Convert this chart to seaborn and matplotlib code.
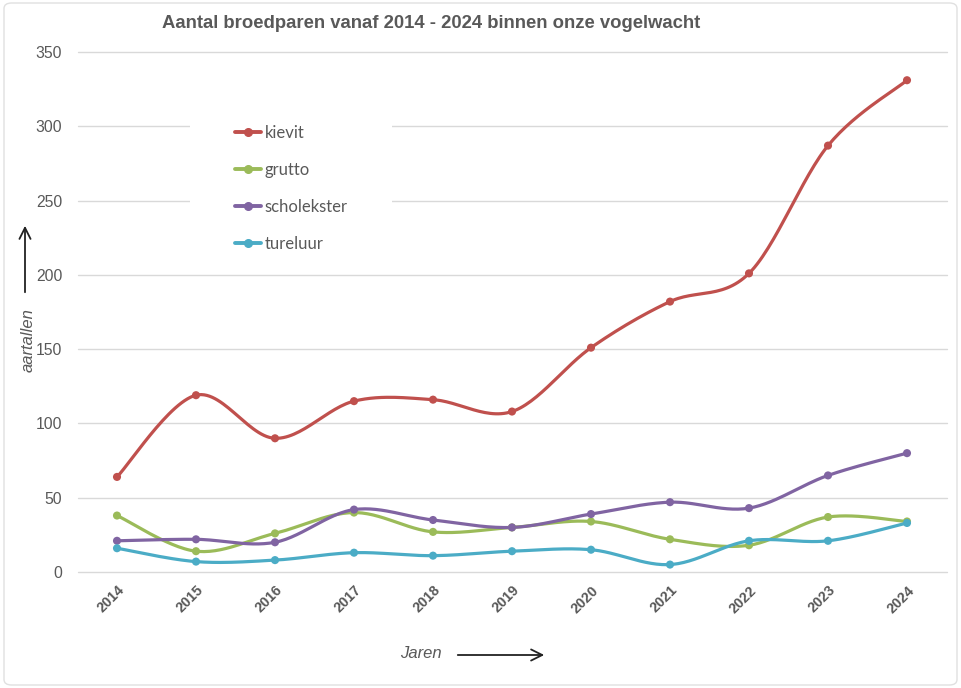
import numpy as np
import pandas as pd
import matplotlib
matplotlib.use('agg')
import matplotlib.pyplot as plt
from matplotlib.lines import Line2D
from matplotlib.patches import Rectangle, FancyBboxPatch, FancyArrowPatch
import seaborn as sns

# data
years = ['2014', '2015', '2016', '2017', '2018', '2019', '2020', '2021', '2022', '2023', '2024']
kievit = [64, 119, 90, 115, 116, 108, 151, 182, 201, 287, 331]
grutto = [38, 14, 26, 40, 27, 30, 34, 22, 18, 37, 34]
scholekster = [21, 22, 20, 42, 35, 30, 39, 47, 43, 65, 80]
tureluur = [16, 7, 8, 13, 11, 14, 15, 5, 21, 21, 33]

series = {'kievit': kievit, 'grutto': grutto, 'scholekster': scholekster, 'tureluur': tureluur}
colors = {'kievit': '#C0504D', 'grutto': '#9BBB59', 'scholekster': '#8064A2', 'tureluur': '#4BACC6'}
TXT = '#595959'


def smooth(y, n=30):
    # Excel style smoothed line: cubic bezier with catmull-rom control points
    x = np.arange(len(y), dtype=float)
    y = np.asarray(y, dtype=float)
    pts = np.column_stack([x, y])
    ext = np.vstack([pts[0], pts, pts[-1]])
    out = []
    t = np.linspace(0, 1, n)[:, None]
    for i in range(len(pts) - 1):
        p0, p3 = ext[i + 1], ext[i + 2]
        c1 = p0 + (ext[i + 2] - ext[i]) / 6
        c2 = p3 - (ext[i + 3] - ext[i + 1]) / 6
        seg = (1 - t) ** 3 * p0 + 3 * (1 - t) ** 2 * t * c1 + 3 * (1 - t) * t ** 2 * c2 + t ** 3 * p3
        out.append(seg if i == 0 else seg[1:])
    return np.vstack(out)


curves = []
points = []
for name, vals in series.items():
    c = smooth(vals)
    curves.append(pd.DataFrame({'x': c[:, 0], 'y': c[:, 1], 'soort': name}))
    points.append(pd.DataFrame({'x': np.arange(len(vals)), 'y': vals, 'soort': name}))
curves = pd.concat(curves, ignore_index=True)
points = pd.concat(points, ignore_index=True)

sns.set_style('white')
plt.rcParams['font.family'] = ['Liberation Sans', 'DejaVu Sans']

W, H = 961, 688
fig = plt.figure(figsize=(W / 100, H / 100), dpi=100)
ax = fig.add_axes([77.5 / W, 116 / H, 869 / W, 520 / H])

sns.lineplot(data=curves, x='x', y='y', hue='soort', palette=colors, sort=False,
             estimator=None, linewidth=2.3, legend=False, ax=ax, zorder=3)
sns.scatterplot(data=points, x='x', y='y', hue='soort', palette=colors, s=34,
                edgecolor='none', legend=False, ax=ax, zorder=4)

ax.set_xlim(-0.5, 10.5)
ax.set_ylim(0, 350)
ax.set_yticks(range(0, 351, 50))
ax.set_xticks(range(len(years)))
ax.set_xticklabels(years, rotation=45, ha='right', rotation_mode='anchor',
                   fontsize=10.3, fontweight='bold', color=TXT)
ax.tick_params(axis='x', length=0, pad=8)
ax.tick_params(axis='y', length=0, pad=11, labelsize=11.3, labelcolor=TXT)
ax.grid(axis='y', color='#d9d9d9', linewidth=1)
for gl in ax.get_ygridlines():
    gl.set_clip_on(False)
ax.set_axisbelow(True)
for s in ax.spines.values():
    s.set_visible(False)
ax.set_xlabel('')
ax.set_ylabel('')

# legend area covers gridlines
ax.add_patch(Rectangle((0.1295, 0.596), 0.2325, 0.296, transform=ax.transAxes,
                       facecolor='white', edgecolor='none', zorder=2))
handles = [Line2D([], [], color=colors[k], marker='o', markersize=5.5, linewidth=2.8) for k in series]
leg = ax.legend(handles, list(series), loc='upper left', bbox_to_anchor=(0.181, 0.8605),
                frameon=False, borderpad=0, borderaxespad=0,
                handlelength=1.6, handletextpad=0.2, labelspacing=1.27,
                prop={'family': ['Lato', 'DejaVu Sans'], 'size': 12})
for t in leg.get_texts():
    t.set_color(TXT)
leg.set_zorder(5)

fig.text(431 / W, 1 - 24 / H, 'Aantal broedparen vanaf 2014 - 2024 binnen onze vogelwacht',
         ha='center', va='center', fontsize=13.3, fontweight='bold', color=TXT)
fig.text(28 / W, 1 - 340 / H, 'aartallen', rotation=90, ha='center', va='center',
         fontsize=12, style='italic', color=TXT)
fig.text(421 / W, 1 - 654 / H, 'Jaren', ha='center', va='center',
         fontsize=12, style='italic', color=TXT)
fig.add_artist(FancyArrowPatch((25 / W, 1 - 295 / H), (25 / W, 1 - 223 / H),
               transform=fig.transFigure, arrowstyle='->,head_width=4,head_length=8',
               color='#222222', linewidth=1.3))
fig.add_artist(FancyArrowPatch((455 / W, 1 - 655 / H), (547 / W, 1 - 655 / H),
               transform=fig.transFigure, arrowstyle='->,head_width=4,head_length=8',
               color='#222222', linewidth=1.3))
fig.add_artist(FancyBboxPatch((4 / W, 3 / H), 953 / W, 682 / H, boxstyle='round,pad=0,rounding_size=0.008',
               transform=fig.transFigure, facecolor='none', edgecolor='#e0e0e0', linewidth=1))

fig.savefig('out.png', dpi=100)
